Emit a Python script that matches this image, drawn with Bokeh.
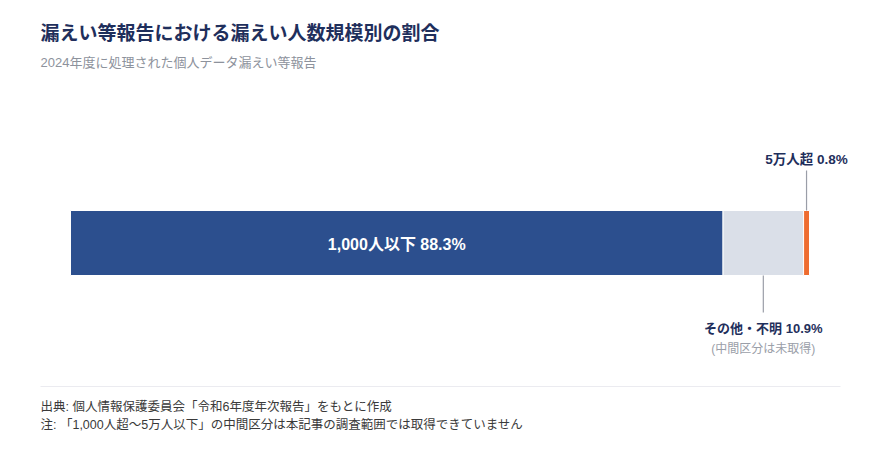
from bokeh.plotting import figure
from bokeh.models import ColumnDataSource, Range1d, Label
from bokeh.embed import file_html
from bokeh.resources import INLINE

# data
categories = ["1,000人以下", "その他・不明", "5万人超"]
shares = [88.3, 10.9, 0.8]
colors = ["#2c4f8e", "#dadfe8", "#ee6c2f"]

title = "漏えい等報告における漏えい人数規模別の割合"
subtitle = "2024年度に処理された個人データ漏えい等報告"
note_unknown = "(中間区分は未取得)"
footer = [
    "出典: 個人情報保護委員会「令和6年度年次報告」をもとに作成",
    "注: 「1,000人超〜5万人以下」の中間区分は本記事の調査範囲では取得できていません",
]

W, H = 864, 444
BAR_LEFT, BAR_W = 70, 739      # pixel span of 0..100 %
FONT = "Liberation Sans, Noto Sans CJK JP"
NAVY = "#1f2f5c"
GREY = "#9a9ea8"


def px(x_pixel):
    # canvas pixel -> percent scale used by the bar
    return (x_pixel - BAR_LEFT) * 100 / BAR_W


lefts, rights = [], []
acc = 0
for s in shares:
    lefts.append(acc)
    acc += s
    rights.append(acc)
centers = [(l + r) / 2 for l, r in zip(lefts, rights)]

# x: percent, y: pixels from the top of the canvas
p = figure(width=W, height=H, output_backend="svg", toolbar_location=None,
           x_range=Range1d(px(0), px(W)), y_range=Range1d(H, 0),
           min_border=0, outline_line_color=None)
p.axis.visible = False
p.grid.visible = False

bar_y, bar_h = 242.5, 65
src = ColumnDataSource(dict(left=lefts, right=rights, y=[bar_y] * 3, color=colors))
p.hbar(y="y", left="left", right="right", height=bar_h, color="color",
       line_color="white", line_width=1, source=src)

# header
p.add_layout(Label(x=px(40), y=33, text=title,
                   text_font=FONT, text_font_style="bold", text_font_size="19px",
                   text_color=NAVY, text_baseline="middle"))
p.add_layout(Label(x=px(40), y=62, text=subtitle,
                   text_font=FONT, text_font_size="13px",
                   text_color="#8d929c", text_baseline="middle"))

# label inside the big segment
p.add_layout(Label(x=centers[0], y=bar_y + 1, text=f"{categories[0]} {shares[0]}%",
                   text_font=FONT, text_font_style="bold", text_font_size="16px",
                   text_color="white", text_align="center", text_baseline="middle"))

# 5万人超 (above)
p.segment(x0=[centers[2]], x1=[centers[2]], y0=[170], y1=[bar_y - bar_h / 2],
          line_color=GREY, line_width=1.2)
p.add_layout(Label(x=centers[2], y=159, text=f"{categories[2]} {shares[2]}%",
                   text_font=FONT, text_font_style="bold", text_font_size="13.5px",
                   text_color=NAVY, text_align="center", text_baseline="middle"))

# その他・不明 (below)
p.segment(x0=[centers[1]], x1=[centers[1]], y0=[bar_y + bar_h / 2], y1=[312],
          line_color=GREY, line_width=1.2)
p.add_layout(Label(x=centers[1], y=328, text=f"{categories[1]} {shares[1]}%",
                   text_font=FONT, text_font_style="bold", text_font_size="13px",
                   text_color=NAVY, text_align="center", text_baseline="middle"))
p.add_layout(Label(x=centers[1], y=348, text=note_unknown,
                   text_font=FONT, text_font_size="12px",
                   text_color=GREY, text_align="center", text_baseline="middle"))

# separator + footer
p.segment(x0=[px(40)], x1=[px(840)], y0=[386], y1=[386], line_color="#ebebf0", line_width=1)
for i, t in enumerate(footer):
    p.add_layout(Label(x=px(40), y=406 + i * 18, text=t,
                       text_font=FONT, text_font_size="12.5px",
                       text_color="#3a3a3a", text_baseline="middle"))

open("out.html", "w").write(file_html(p, INLINE))
